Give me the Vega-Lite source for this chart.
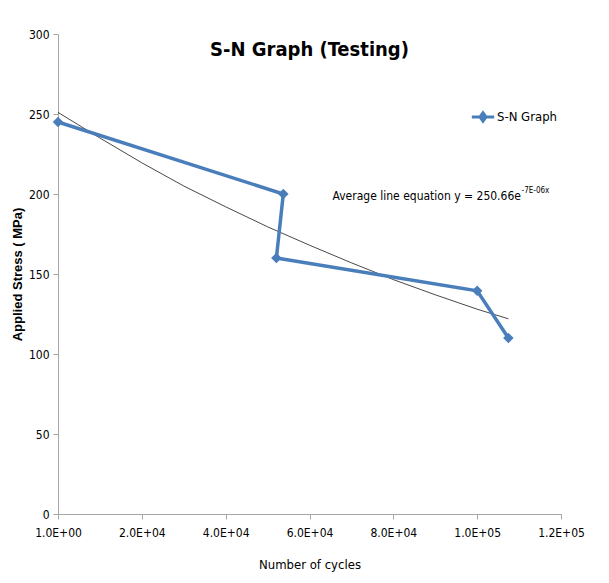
{
  "$schema": "https://vega.github.io/schema/vega-lite/v6.json",
  "width": 503,
  "height": 480,
  "autosize": {"type": "none"},
  "padding": {"left": 58, "top": 34, "right": 48, "bottom": 69},
  "background": "white",
  "title": {
    "text": "S-N Graph (Testing)",
    "font": "Liberation Sans Narrow, DejaVu Sans Condensed, sans-serif",
    "fontSize": 20,
    "fontWeight": "bold",
    "color": "#000000",
    "anchor": "middle",
    "frame": "group",
    "offset": -32
  },
  "datasets": {
    "sn": [
      {"order": 1, "cycles": 0, "stress": 245, "series": "S-N Graph"},
      {"order": 2, "cycles": 53750, "stress": 200, "series": "S-N Graph"},
      {"order": 3, "cycles": 52100, "stress": 160, "series": "S-N Graph"},
      {"order": 4, "cycles": 100000, "stress": 139.5, "series": "S-N Graph"},
      {"order": 5, "cycles": 107450, "stress": 110, "series": "S-N Graph"}
    ],
    "trend": [
      {"cycles": 0, "stress": 251},
      {"cycles": 10000, "stress": 235},
      {"cycles": 20000, "stress": 219.5},
      {"cycles": 30000, "stress": 205},
      {"cycles": 40000, "stress": 192},
      {"cycles": 50000, "stress": 179.5},
      {"cycles": 60000, "stress": 168},
      {"cycles": 70000, "stress": 157},
      {"cycles": 80000, "stress": 146.5},
      {"cycles": 90000, "stress": 137},
      {"cycles": 100000, "stress": 128},
      {"cycles": 107450, "stress": 122}
    ],
    "notes": [
      {"cycles": 65500, "stress": 198.5, "label": "Average line equation y = 250.66e", "kind": "main"},
      {"cycles": 110600, "stress": 202, "label": "-7E-06x", "kind": "sup"}
    ]
  },
  "config": {
    "view": {"stroke": null},
    "axis": {
      "grid": false,
      "labelFlush": false,
      "domainColor": "#A6A6A6",
      "tickColor": "#A6A6A6",
      "tickSize": 5,
      "labelFont": "Liberation Sans Narrow, DejaVu Sans Condensed, sans-serif",
      "labelFontSize": 12,
      "labelColor": "#000000",
      "titleColor": "#000000"
    }
  },
  "layer": [
    {
      "data": {"name": "trend"},
      "mark": {"type": "line", "color": "#000000", "strokeWidth": 0.9, "opacity": 0.8},
      "encoding": {
        "x": {
          "field": "cycles",
          "type": "quantitative",
          "scale": {"domain": [0, 120000], "nice": false},
          "axis": {
            "values": [0, 20000, 40000, 60000, 80000, 100000, 120000],
            "labelExpr": "datum.value == 0 ? '1.0E+00' : replace(upper(format(datum.value, '.1e')), regexp('E\\\\+(\\\\d)$'), 'E+0$1')",
            "title": "Number of cycles",
            "titleFont": "Liberation Sans Narrow, DejaVu Sans Condensed, sans-serif",
            "titleFontSize": 13,
            "titleFontWeight": "normal",
            "labelPadding": 8,
            "titlePadding": 20
          }
        },
        "y": {
          "field": "stress",
          "type": "quantitative",
          "scale": {"domain": [0, 300], "nice": false},
          "axis": {
            "values": [0, 50, 100, 150, 200, 250, 300],
            "title": "Applied Stress ( MPa)",
            "titleFont": "Liberation Sans, Arial, sans-serif",
            "titleFontSize": 13,
            "titleFontWeight": "bold",
            "labelPadding": 4,
            "titlePadding": 4
          }
        }
      }
    },
    {
      "data": {"name": "sn"},
      "mark": {"type": "line", "strokeWidth": 3.5},
      "encoding": {
        "x": {"field": "cycles", "type": "quantitative"},
        "y": {"field": "stress", "type": "quantitative"},
        "order": {"field": "order", "type": "quantitative"},
        "color": {
          "field": "series",
          "type": "nominal",
          "scale": {"range": ["#4A7EBB"]},
          "legend": {
            "title": null,
            "orient": "none",
            "legendX": 412,
            "legendY": 70,
            "symbolType": "M-1,0L1,0M0,-0.38L0.27,0L0,0.38L-0.27,0Z",
            "symbolSize": 500,
            "symbolStrokeWidth": 3,
            "labelFont": "Liberation Sans Narrow, DejaVu Sans Condensed, sans-serif",
            "labelFontSize": 13,
            "labelColor": "#000000",
            "labelOffset": 1,
            "encode": {
              "symbols": {"update": {"fill": {"value": "#4A7EBB"}, "stroke": {"value": "#4A7EBB"}, "opacity": {"value": 1}}}
            }
          }
        }
      }
    },
    {
      "data": {"name": "sn"},
      "mark": {"type": "point", "shape": "diamond", "filled": true, "size": 110, "color": "#4A7EBB", "opacity": 1},
      "encoding": {
        "x": {"field": "cycles", "type": "quantitative"},
        "y": {"field": "stress", "type": "quantitative"}
      }
    },
    {
      "data": {"name": "notes"},
      "transform": [{"filter": "datum.kind == 'main'"}],
      "mark": {"type": "text", "align": "left", "baseline": "middle", "font": "Liberation Sans Narrow, DejaVu Sans Condensed, sans-serif", "fontSize": 12, "color": "#000000"},
      "encoding": {
        "x": {"field": "cycles", "type": "quantitative"},
        "y": {"field": "stress", "type": "quantitative"},
        "text": {"field": "label"}
      }
    },
    {
      "data": {"name": "notes"},
      "transform": [{"filter": "datum.kind == 'sup'"}],
      "mark": {"type": "text", "align": "left", "baseline": "middle", "font": "Liberation Sans Narrow, DejaVu Sans Condensed, sans-serif", "fontSize": 8, "color": "#000000"},
      "encoding": {
        "x": {"field": "cycles", "type": "quantitative"},
        "y": {"field": "stress", "type": "quantitative"},
        "text": {"field": "label"}
      }
    }
  ]
}
